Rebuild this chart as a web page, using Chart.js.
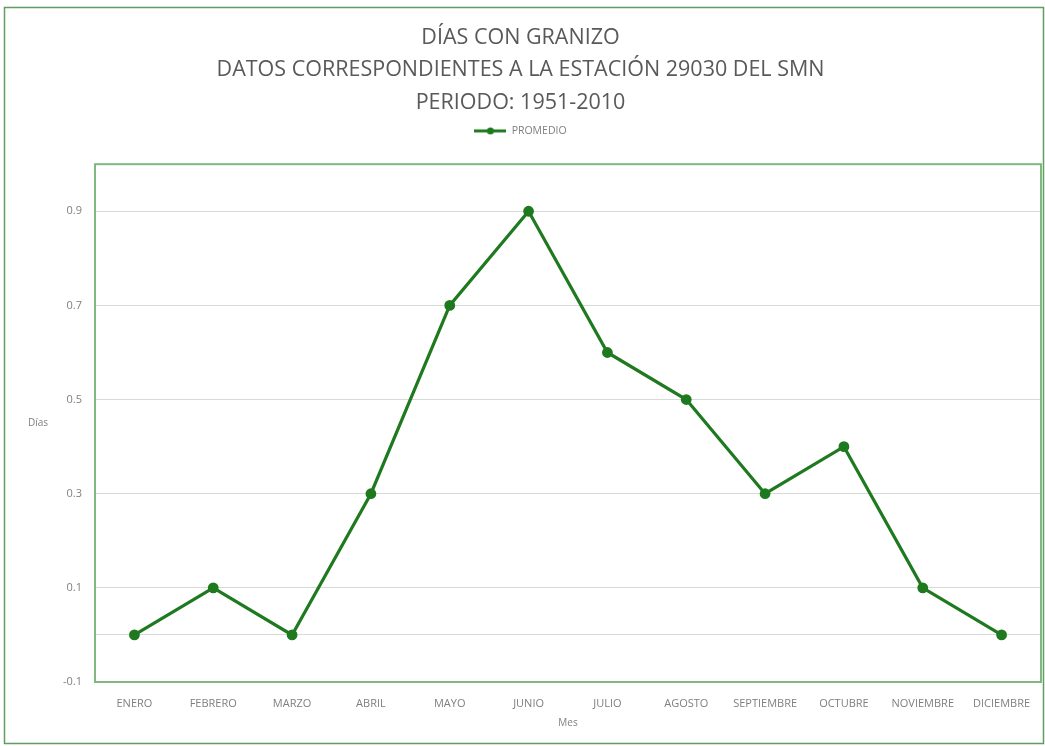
<!DOCTYPE html>
<html>
<head>
<meta charset="utf-8">
<title>Días con granizo</title>
<script src="https://cdn.jsdelivr.net/npm/chart.js@4.4.1/dist/chart.umd.min.js"></script>
<style>
  html, body { margin: 0; padding: 0; background: #ffffff; }
  canvas { display: block; }
</style>
</head>
<body>
<canvas id="grafico" width="1045" height="746"></canvas>
<script>
// Datos de la estación 29030 (SMN), promedio mensual 1951-2010
const meses = ['ENERO', 'FEBRERO', 'MARZO', 'ABRIL', 'MAYO', 'JUNIO', 'JULIO',
  'AGOSTO', 'SEPTIEMBRE', 'OCTUBRE', 'NOVIEMBRE', 'DICIEMBRE'];
const promedio = [0, 0.1, 0, 0.3, 0.7, 0.9, 0.6, 0.5, 0.3, 0.4, 0.1, 0];
const ticksY = [-0.1, 0, 0.1, 0.3, 0.5, 0.7, 0.9];
const etiquetasY = [-0.1, 0.1, 0.3, 0.5, 0.7, 0.9];
const titulo = [
  'DÍAS CON GRANIZO',
  'DATOS CORRESPONDIENTES A LA ESTACIÓN 29030 DEL SMN',
  'PERIODO: 1951-2010'
];

const VERDE = '#1f7a1f';
const GRIS = '#7f7f7f';
const FUENTE = '"Open Sans", "Noto Sans", sans-serif';

// marcador de la leyenda: línea con punto al centro
function marcadorLeyenda() {
  const c = document.createElement('canvas');
  c.width = 32;
  c.height = 10;
  const g = c.getContext('2d');
  g.strokeStyle = VERDE;
  g.lineWidth = 3;
  g.beginPath();
  g.moveTo(0, 5);
  g.lineTo(32, 5);
  g.stroke();
  g.fillStyle = VERDE;
  g.beginPath();
  g.arc(16, 5, 3.5, 0, Math.PI * 2);
  g.fill();
  return c;
}

// fondo, borde exterior, borde del área de trazado y título del eje Y
const marcos = {
  id: 'marcos',
  beforeInit(chart) {
    const fit = chart.legend.fit;
    chart.legend.fit = function () {
      fit.call(this);
      this.height += 18;
    };
  },
  beforeDraw(chart) {
    const ctx = chart.ctx;
    ctx.save();
    ctx.fillStyle = '#ffffff';
    ctx.fillRect(0, 0, chart.width, chart.height);
    ctx.strokeStyle = '#5e9e5e';
    ctx.lineWidth = 1.5;
    ctx.strokeRect(4.5, 7.5, chart.width - 6, chart.height - 10);
    ctx.restore();
  },
  afterDraw(chart) {
    const ctx = chart.ctx;
    const a = chart.chartArea;
    ctx.save();
    ctx.strokeStyle = '#80b880';
    ctx.lineWidth = 2;
    ctx.strokeRect(a.left, a.top, a.right - a.left, a.bottom - a.top);
    ctx.fillStyle = GRIS;
    ctx.font = '10px ' + FUENTE;
    ctx.textAlign = 'center';
    ctx.textBaseline = 'middle';
    ctx.fillText('Días', 38, (a.top + a.bottom) / 2);
    ctx.restore();
  }
};

new Chart(document.getElementById('grafico'), {
  type: 'line',
  data: {
    labels: meses,
    datasets: [{
      label: 'PROMEDIO',
      data: promedio,
      borderColor: VERDE,
      backgroundColor: VERDE,
      pointBackgroundColor: VERDE,
      pointBorderColor: VERDE,
      borderWidth: 3.2,
      pointRadius: 3.8,
      tension: 0
    }]
  },
  options: {
    responsive: false,
    animation: false,
    devicePixelRatio: 1,
    layout: {
      autoPadding: false,
      padding: { top: 0, right: 4, bottom: 0, left: 0 }
    },
    plugins: {
      title: {
        display: true,
        text: titulo,
        color: '#595959',
        font: { family: FUENTE, size: 21.5, lineHeight: 1.53, weight: 'normal' },
        padding: { top: 21, bottom: 0 }
      },
      legend: {
        display: true,
        labels: {
          color: GRIS,
          font: { family: FUENTE, size: 10.5 },
          usePointStyle: true,
          pointStyle: marcadorLeyenda(),
          pointStyleWidth: 32,
          boxHeight: 10,
          padding: 6
        }
      },
      tooltip: { enabled: false }
    },
    scales: {
      x: {
        offset: true,
        grid: { display: false },
        border: { display: false },
        ticks: {
          color: GRIS,
          font: { family: FUENTE, size: 11 },
          padding: 7,
          maxRotation: 0,
          autoSkip: false
        },
        title: {
          display: true,
          text: 'Mes',
          color: GRIS,
          font: { family: FUENTE, size: 10 },
          padding: { top: 0, bottom: 17 }
        },
        afterFit(scale) {
          scale.height = 64;
          scale.paddingLeft = 0;
          scale.paddingRight = 0;
        }
      },
      y: {
        min: -0.1,
        max: 1.0,
        grid: { color: '#d9d9d9', lineWidth: 1, drawTicks: false },
        border: { display: false },
        ticks: {
          color: GRIS,
          font: { family: FUENTE, size: 11 },
          padding: 13,
          callback: (v) => etiquetasY.some(e => Math.abs(e - v) < 1e-9) ? v.toFixed(1) : ''
        },
        afterBuildTicks(scale) {
          scale.ticks = ticksY.map(v => ({ value: v }));
        },
        afterFit(scale) {
          scale.width = 95;
          scale.paddingTop = 0;
          scale.paddingBottom = 0;
        }
      }
    }
  },
  plugins: [marcos]
});
</script>
</body>
</html>
